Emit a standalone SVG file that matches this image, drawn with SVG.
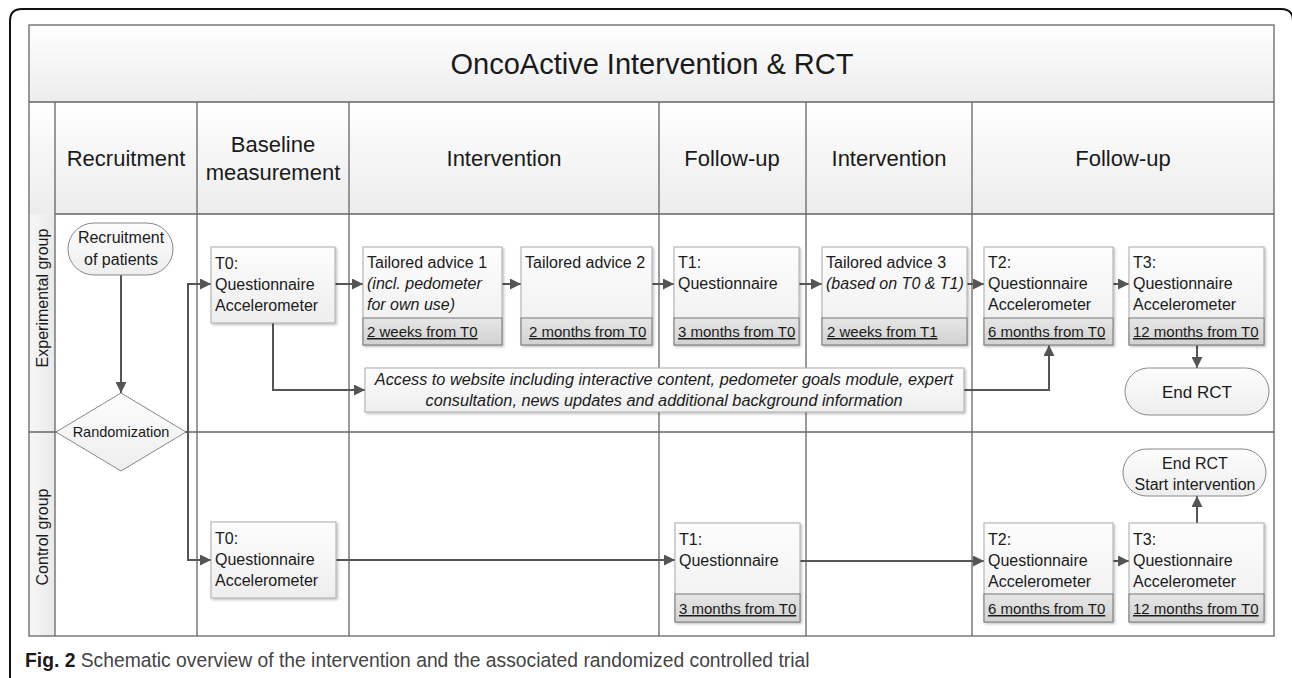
<svg xmlns="http://www.w3.org/2000/svg" width="1292" height="678" viewBox="0 0 1292 678">
<defs>
<linearGradient id="gHead" x1="0" y1="0" x2="0" y2="1"><stop offset="0" stop-color="#ffffff"/><stop offset="1" stop-color="#ececec"/></linearGradient>
<linearGradient id="gLane" x1="0" y1="0" x2="1" y2="0"><stop offset="0" stop-color="#f7f7f7"/><stop offset="1" stop-color="#e9e9e9"/></linearGradient>
<linearGradient id="gBox" x1="0" y1="0" x2="0" y2="1"><stop offset="0" stop-color="#fdfdfd"/><stop offset="1" stop-color="#eeeeee"/></linearGradient>
<linearGradient id="gFoot" x1="0" y1="0" x2="0" y2="1"><stop offset="0" stop-color="#e6e6e6"/><stop offset="1" stop-color="#d2d2d2"/></linearGradient>
<filter id="sh" x="-10%" y="-10%" width="130%" height="130%"><feDropShadow dx="1.5" dy="1.5" stdDeviation="1.2" flood-color="#000" flood-opacity="0.25"/></filter>
<marker id="ah" viewBox="0 0 10 10" refX="10" refY="5" markerWidth="11" markerHeight="11" markerUnits="userSpaceOnUse" orient="auto"><path d="M0,0 L10,5 L0,10 z" fill="#555"/></marker>
</defs>
<style>
text{font-family:"Liberation Sans",Arial,sans-serif;fill:#1a1a1a}
.grid{fill:none;stroke:#666;stroke-width:1.3}
.box{fill:url(#gBox);stroke:#aaa;stroke-width:1;filter:url(#sh)}
.foot{fill:url(#gFoot);stroke:#777;stroke-width:1}
.t{font-size:16px}
.it{font-size:16px;font-style:italic}
.ft{font-size:15px;text-decoration:underline}
.hd{font-size:22px;text-anchor:middle}
.conn{fill:none;stroke:#555;stroke-width:2}
.term{fill:url(#gBox);stroke:#888;stroke-width:1}
</style>
<rect width="1292" height="678" fill="#ffffff"/>
<path d="M10,678 V21 Q10,9 22,9 H1281 Q1293,9 1293,21 V678" fill="none" stroke="#111" stroke-width="2"/>

<g id="frame">
<rect x="29" y="25" width="1245" height="77" fill="url(#gHead)"/>
<rect x="29" y="102" width="1245" height="112" fill="url(#gHead)"/>
<rect x="29" y="214" width="26" height="422" fill="url(#gLane)"/>
<rect x="29" y="25" width="1245" height="611" class="grid"/>
<path class="grid" d="M29,102 H1274 M55,214 H1274 M29,432 H1274 M55,102 V636 M197,102 V636 M349,102 V636 M659,102 V636 M806,102 V636 M972,102 V636"/>
<text x="652" y="74" font-size="29" text-anchor="middle">OncoActive Intervention &amp; RCT</text>
<text class="hd" x="126" y="166">Recruitment</text>
<text class="hd" x="273" y="152">Baseline</text>
<text class="hd" x="273" y="180">measurement</text>
<text class="hd" x="504" y="166">Intervention</text>
<text class="hd" x="732" y="166">Follow-up</text>
<text class="hd" x="889" y="166">Intervention</text>
<text class="hd" x="1123" y="166">Follow-up</text>
<text font-size="16" text-anchor="middle" transform="translate(48,298) rotate(-90)">Experimental group</text>
<text font-size="16" text-anchor="middle" transform="translate(48,537) rotate(-90)">Control group</text>
</g>

<g id="connectors">
<path class="conn" d="M121,275 V393" marker-end="url(#ah)"/>
<path class="conn" d="M186,432 H188 V284 H211" marker-end="url(#ah)"/>
<path class="conn" d="M188,432 V560 H211" marker-end="url(#ah)"/>
<path class="conn" d="M335,284 H363" marker-end="url(#ah)"/>
<path class="conn" d="M502,284 H521" marker-end="url(#ah)"/>
<path class="conn" d="M652,284 H674" marker-end="url(#ah)"/>
<path class="conn" d="M799,284 H822" marker-end="url(#ah)"/>
<path class="conn" d="M967,284 H984" marker-end="url(#ah)"/>
<path class="conn" d="M1113,284 H1129" marker-end="url(#ah)"/>
<path class="conn" d="M273,323 V390 H365" marker-end="url(#ah)"/>
<path class="conn" d="M964,390 H1049 V345" marker-end="url(#ah)"/>
<path class="conn" d="M1197,345 V368" marker-end="url(#ah)"/>
<path class="conn" d="M336,560 H675" marker-end="url(#ah)"/>
<path class="conn" d="M800,561 H984" marker-end="url(#ah)"/>
<path class="conn" d="M1113,561 H1129" marker-end="url(#ah)"/>
<path class="conn" d="M1197,523 V496" marker-end="url(#ah)"/>
</g>

<g id="recruit">
<rect x="68" y="223" width="105" height="52" rx="26" class="term"/>
<text class="t" x="121" y="243" text-anchor="middle">Recruitment</text>
<text class="t" x="121" y="265" text-anchor="middle">of patients</text>
</g>

<g id="randomization">
<polygon points="121,393 186,432 121,471 56,432" class="term"/>
<text x="121" y="437" font-size="14.5" text-anchor="middle">Randomization</text>
</g>

<g id="t0-exp">
<rect x="211" y="247" width="124" height="76" class="box"/>
<text class="t" x="215" y="269">T0:</text>
<text class="t" x="215" y="290">Questionnaire</text>
<text class="t" x="215" y="311">Accelerometer</text>
</g>

<g id="advice1">
<rect x="363" y="247" width="139" height="98" class="box"/>
<rect x="363" y="318" width="139" height="27" class="foot"/>
<text class="t" x="367" y="268">Tailored advice 1</text>
<text class="it" x="367" y="289">(incl. pedometer</text>
<text class="it" x="367" y="310">for own use)</text>
<text class="ft" x="367" y="337">2 weeks from T0</text>
</g>

<g id="advice2">
<rect x="521" y="247" width="131" height="98" class="box"/>
<rect x="521" y="318" width="131" height="27" class="foot"/>
<text class="t" x="525" y="268">Tailored advice 2</text>
<text class="ft" x="529" y="337">2 months from T0</text>
</g>

<g id="t1-exp">
<rect x="674" y="247" width="125" height="98" class="box"/>
<rect x="674" y="318" width="125" height="27" class="foot"/>
<text class="t" x="678" y="268">T1:</text>
<text class="t" x="678" y="289">Questionnaire</text>
<text class="ft" x="678" y="337">3 months from T0</text>
</g>

<g id="advice3">
<rect x="822" y="247" width="145" height="98" class="box"/>
<rect x="822" y="318" width="145" height="27" class="foot"/>
<text class="t" x="826" y="268">Tailored advice 3</text>
<text class="it" x="826" y="289">(based on T0 &amp; T1)</text>
<text class="ft" x="827" y="337">2 weeks from T1</text>
</g>

<g id="t2-exp">
<rect x="984" y="247" width="129" height="98" class="box"/>
<rect x="984" y="318" width="129" height="27" class="foot"/>
<text class="t" x="988" y="268">T2:</text>
<text class="t" x="988" y="289">Questionnaire</text>
<text class="t" x="988" y="310">Accelerometer</text>
<text class="ft" x="988" y="337">6 months from T0</text>
</g>

<g id="t3-exp">
<rect x="1129" y="247" width="135" height="98" class="box"/>
<rect x="1129" y="318" width="135" height="27" class="foot"/>
<text class="t" x="1133" y="268">T3:</text>
<text class="t" x="1133" y="289">Questionnaire</text>
<text class="t" x="1133" y="310">Accelerometer</text>
<text class="ft" x="1133" y="337">12 months from T0</text>
</g>

<g id="access">
<rect x="365" y="368" width="599" height="44" class="box"/>
<text class="it" x="664" y="385" font-size="16.3" text-anchor="middle" style="font-size:16.3px">Access to website including interactive content, pedometer goals module, expert</text>
<text class="it" x="664" y="406" text-anchor="middle" style="font-size:16.3px">consultation, news updates and additional background information</text>
</g>

<g id="end-exp">
<rect x="1125" y="368" width="144" height="47" rx="23.5" class="term"/>
<text x="1197" y="398" font-size="17" text-anchor="middle">End RCT</text>
</g>

<g id="t0-ctrl">
<rect x="211" y="522" width="125" height="76" class="box"/>
<text class="t" x="215" y="544">T0:</text>
<text class="t" x="215" y="565">Questionnaire</text>
<text class="t" x="215" y="586">Accelerometer</text>
</g>

<g id="t1-ctrl">
<rect x="675" y="523" width="125" height="99" class="box"/>
<rect x="675" y="594" width="125" height="28" class="foot"/>
<text class="t" x="679" y="545">T1:</text>
<text class="t" x="679" y="566">Questionnaire</text>
<text class="ft" x="679" y="614">3 months from T0</text>
</g>

<g id="t2-ctrl">
<rect x="984" y="523" width="129" height="99" class="box"/>
<rect x="984" y="594" width="129" height="28" class="foot"/>
<text class="t" x="988" y="545">T2:</text>
<text class="t" x="988" y="566">Questionnaire</text>
<text class="t" x="988" y="587">Accelerometer</text>
<text class="ft" x="988" y="614">6 months from T0</text>
</g>

<g id="t3-ctrl">
<rect x="1129" y="523" width="135" height="99" class="box"/>
<rect x="1129" y="594" width="135" height="28" class="foot"/>
<text class="t" x="1133" y="545">T3:</text>
<text class="t" x="1133" y="566">Questionnaire</text>
<text class="t" x="1133" y="587">Accelerometer</text>
<text class="ft" x="1133" y="614">12 months from T0</text>
</g>

<g id="end-ctrl">
<rect x="1123" y="449" width="143" height="47" rx="23.5" class="term"/>
<text x="1195" y="469" font-size="16" text-anchor="middle">End RCT</text>
<text x="1195" y="490" font-size="16" text-anchor="middle">Start intervention</text>
</g>

<g id="caption">
<text x="25" y="667" font-size="19.3" fill="#222"><tspan font-weight="bold">Fig. 2</tspan><tspan fill="#444"> Schematic overview of the intervention and the associated randomized controlled trial</tspan></text>
</g>
</svg>
